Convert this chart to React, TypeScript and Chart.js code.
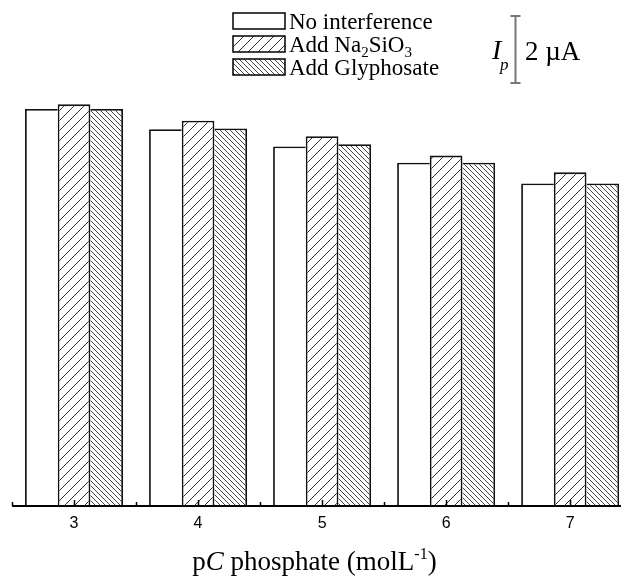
import React, { useEffect, useRef } from "react";
import { Chart, registerables } from "chart.js";

Chart.register(...registerables);

// ---- data ----
const categories = [3, 4, 5, 6, 7];
const noInterference = [11.85, 11.25, 10.73, 10.25, 9.63];
const addNa2SiO3 = [11.99, 11.5, 11.04, 10.46, 9.96];
const addGlyphosate = [11.85, 11.27, 10.8, 10.25, 9.63];
const seriesNames = ["No interference", "Add Na2SiO3", "Add Glyphosate"];
const scaleBarValue = 2; // µA
const xMin = 2.5;
const xMax = 7.41;
const yMax = 14;

const SERIF = '"Liberation Serif", "Times New Roman", serif';
const SANS = '"Liberation Sans", Arial, sans-serif';

function makeHatch(period: number, dir: "/" | "\\", color: string, width: number) {
  const c = document.createElement("canvas");
  c.width = period;
  c.height = period;
  const g = c.getContext("2d")!;
  g.fillStyle = "#ffffff";
  g.fillRect(0, 0, period, period);
  g.strokeStyle = color;
  g.lineWidth = width;
  g.beginPath();
  for (let k = -1; k <= 1; k++) {
    if (dir === "/") {
      g.moveTo(k * period, period);
      g.lineTo(k * period + period, 0);
    } else {
      g.moveTo(k * period, 0);
      g.lineTo(k * period + period, period);
    }
  }
  g.stroke();
  const ctx = document.createElement("canvas").getContext("2d")!;
  return ctx.createPattern(c, "repeat")!;
}

type Run = { t: string; font: string; dy?: number };
function runsWidth(ctx: CanvasRenderingContext2D, runs: Run[]) {
  let w = 0;
  for (const r of runs) {
    ctx.font = r.font;
    w += ctx.measureText(r.t).width;
  }
  return w;
}
function drawRuns(ctx: CanvasRenderingContext2D, runs: Run[], x: number, y: number) {
  let cx = x;
  for (const r of runs) {
    ctx.font = r.font;
    ctx.fillText(r.t, cx, y + (r.dy || 0));
    cx += ctx.measureText(r.t).width;
  }
}

export default function App() {
  const ref = useRef<HTMLCanvasElement | null>(null);

  useEffect(() => {
    const canvas = ref.current!;
    const fwd = makeHatch(10, "/", "#333333", 1);
    const back = makeHatch(5, "\\", "#444444", 1);
    const fills: (string | CanvasPattern)[] = ["#ffffff", fwd, back];
    const values = [noInterference, addNa2SiO3, addGlyphosate];
    const bwd = 1.8;
    const borders = [
      { top: bwd, left: bwd, right: 0, bottom: 0 },
      { top: bwd, left: bwd, right: bwd, bottom: 0 },
      { top: bwd, left: 0, right: bwd, bottom: 0 },
    ];

    const decor = {
      id: "decor",
      afterDraw(chart: any) {
        const ctx: CanvasRenderingContext2D = chart.ctx;
        const xs = chart.scales.x;
        const ys = chart.scales.y;
        const base = ys.getPixelForValue(0);
        ctx.save();
        // x axis line
        ctx.strokeStyle = "#000";
        ctx.lineWidth = 2;
        ctx.beginPath();
        ctx.moveTo(xs.left, base);
        ctx.lineTo(xs.right, base);
        ctx.stroke();
        // ticks (inward)
        ctx.lineWidth = 1.5;
        ctx.beginPath();
        for (let v = xMin; v <= xs.max + 1e-9; v += 0.5) {
          const px = Math.round(xs.getPixelForValue(v)) + 0.5;
          const major = Math.abs(v - Math.round(v)) < 1e-9;
          ctx.moveTo(px, base);
          ctx.lineTo(px, base - (major ? 6 : 4));
        }
        ctx.stroke();
        // tick labels
        ctx.fillStyle = "#000";
        ctx.font = `16px ${SANS}`;
        ctx.textAlign = "center";
        ctx.textBaseline = "middle";
        categories.forEach((c) => {
          ctx.fillText(String(c), xs.getPixelForValue(c), base + 18);
        });
        // axis title
        ctx.textAlign = "left";
        ctx.textBaseline = "alphabetic";
        const tf = `27px ${SERIF}`;
        const titleRuns: Run[] = [
          { t: "p", font: tf },
          { t: "C", font: `italic 27px ${SERIF}` },
          { t: " phosphate (molL", font: tf },
          { t: "-1", font: `16px ${SERIF}`, dy: -11 },
          { t: ")", font: tf },
        ];
        const tw = runsWidth(ctx, titleRuns);
        const tcx = 314.5;
        drawRuns(ctx, titleRuns, tcx - tw / 2, 570);

        // legend
        const lx = 233;
        const ly = 13;
        const bw = 52;
        const bh = 16;
        const gap = 23;
        const lf = `23px ${SERIF}`;
        const sf = `15px ${SERIF}`;
        const labelRuns: Run[][] = [
          [{ t: seriesNames[0], font: lf }],
          [
            { t: "Add Na", font: lf },
            { t: "2", font: sf, dy: 5 },
            { t: "SiO", font: lf },
            { t: "3", font: sf, dy: 5 },
          ],
          [{ t: seriesNames[2], font: lf }],
        ];
        for (let i = 0; i < 3; i++) {
          const y = ly + i * gap;
          ctx.fillStyle = fills[i] as any;
          ctx.fillRect(lx, y, bw, bh);
          ctx.strokeStyle = "#000";
          ctx.lineWidth = 1.5;
          ctx.strokeRect(lx, y, bw, bh);
          ctx.fillStyle = "#000";
          drawRuns(ctx, labelRuns[i], 289, y + 16);
        }

        // scale bar (2 µA)
        const barLen = ys.getPixelForValue(0) - ys.getPixelForValue(scaleBarValue);
        const sx = 515.5;
        const sTop = 16;
        ctx.strokeStyle = "#777";
        ctx.lineWidth = 2;
        ctx.beginPath();
        ctx.moveTo(sx, sTop);
        ctx.lineTo(sx, sTop + barLen);
        ctx.moveTo(sx - 5, sTop);
        ctx.lineTo(sx + 5, sTop);
        ctx.moveTo(sx - 5, sTop + barLen);
        ctx.lineTo(sx + 5, sTop + barLen);
        ctx.stroke();
        ctx.fillStyle = "#000";
        ctx.font = `italic 28px ${SERIF}`;
        ctx.fillText("I", 492, 59);
        ctx.font = `italic 17px ${SERIF}`;
        ctx.fillText("p", 500, 70);
        ctx.font = `27px ${SERIF}`;
        ctx.fillText(`${scaleBarValue} µA`, 525, 60);
        ctx.restore();
      },
    };

    const chart = new Chart(canvas, {
      type: "bar",
      data: {
        labels: categories,
        datasets: seriesNames.map((name, i) => ({
          label: name,
          data: values[i],
          backgroundColor: fills[i] as any,
          borderColor: "#111",
          borderWidth: borders[i],
          borderSkipped: "start",
        })),
      },
      options: {
        responsive: false,
        animation: false,
        devicePixelRatio: 1,
        layout: { padding: { left: 12, right: 0, top: 37, bottom: 72 } },
        datasets: { bar: { categoryPercentage: 0.79, barPercentage: 1 } },
        scales: {
          x: {
            type: "linear",
            min: xMin,
            max: xMax,
            display: false,
            offset: false,
            afterBuildTicks: (scale: any) => {
              scale.ticks = categories.map((v) => ({ value: v }));
            },
          },
          y: { min: 0, max: yMax, display: false },
        },
        plugins: { legend: { display: false }, tooltip: { enabled: false } },
      } as any,
      plugins: [decor],
    });
    return () => chart.destroy();
  }, []);

  return (
    <div style={{ position: "absolute", left: 0, top: 0, width: 621, height: 578, overflow: "hidden", background: "#fff" }}>
      <canvas ref={ref} width={621} height={578} style={{ display: "block", width: 621, height: 578 }} />
    </div>
  );
}
